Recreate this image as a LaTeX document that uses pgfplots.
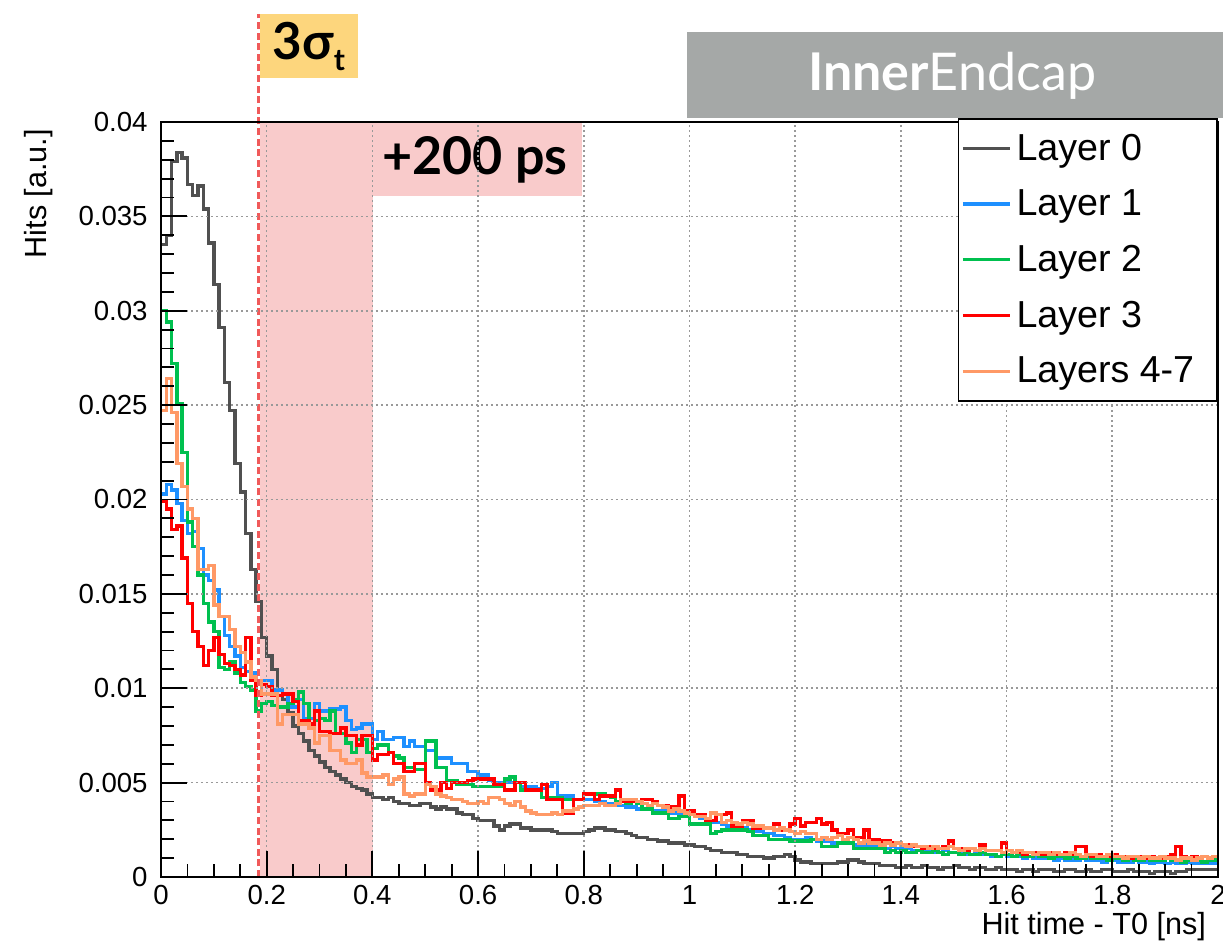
\documentclass[border=0pt]{standalone}
\usepackage{fontspec}
\setmainfont{Liberation Sans}
\newfontfamily\lato{Lato}
\usepackage{pgfplots}
\pgfplotsset{compat=1.18}
\usepackage{pgfplotstable}

\definecolor{lzero}{HTML}{505050}
\definecolor{lone}{HTML}{1E90FF}
\definecolor{ltwo}{HTML}{00C04F}
\definecolor{lthree}{HTML}{FF0000}
\definecolor{lfour}{HTML}{FF9966}
\definecolor{bandred}{HTML}{ED6060}
\definecolor{capgray}{HTML}{A5A8A7}
\definecolor{sigyellow}{HTML}{FDD67D}
\definecolor{cutred}{HTML}{F05A5A}

% Hit-time histograms, 10 ps bins (lower bin edge), normalised hits per layer group
\pgfplotstableread{
x l0 l1 l2 l3 l4
0.00 .0335 .0203 .0300 .0199 .0247
0.01 .0340 .0208 .0294 .0195 .0264
0.02 .0379 .0205 .0272 .0184 .0246
0.03 .0384 .0198 .0251 .0186 .0219
0.04 .0381 .0189 .0225 .0169 .0207
0.05 .0367 .0182 .0188 .0145 .0195
0.06 .0361 .0183 .0175 .0130 .0190
0.07 .0366 .0174 .0160 .0122 .0163
0.08 .0354 .0160 .0145 .0112 .0163
0.09 .0336 .0157 .0135 .0120 .0165
0.10 .0314 .0152 .0130 .0127 .0144
0.11 .0291 .0138 .0111 .0118 .0138
0.12 .0262 .0128 .0110 .0113 .0138
0.13 .0247 .0122 .0114 .0112 .0131
0.14 .0219 .0117 .0108 .0110 .0122
0.15 .0204 .0111 .0103 .0107 .0119
0.16 .0182 .0109 .0101 .0127 .0114
0.17 .0163 .0108 .0099 .0104 .0106
0.18 .0146 .0104 .0088 .0096 .0104
0.19 .0127 .0104 .0092 .0102 .0097
0.20 .0117 .0104 .0093 .0101 .0097
0.21 .0110 .0099 .0091 .0096 .0097
0.22 .0099 .0099 .0090 .0096 .0081
0.23 .0094 .0097 .0090 .0097 .0086
0.24 .0087 .0090 .0092 .0097 .0086
0.25 .0080 .0090 .0094 .0093 .0086
0.26 .0076 .0094 .0098 .0083 .0081
0.27 .0072 .0084 .0092 .0083 .0081
0.28 .0067 .0084 .0080 .0081 .0079
0.29 .0064 .0092 .0083 .0088 .0071
0.30 .0061 .0088 .0084 .0077 .0075
0.31 .0058 .0088 .0083 .0077 .0075
0.32 .0056 .0089 .0088 .0076 .0067
0.33 .0054 .0089 .0076 .0076 .0067
0.34 .0052 .0090 .0076 .0079 .0062
0.35 .0050 .0083 .0071 .0075 .0060
0.36 .0048 .0078 .0066 .0075 .0060
0.37 .0047 .0079 .0073 .0070 .0062
0.38 .0046 .0081 .0073 .0075 .0055
0.39 .0044 .0081 .0066 .0075 .0053
0.40 .0042 .0073 .0068 .0062 .0053
0.41 .0042 .0077 .0070 .0065 .0053
0.42 .0041 .0073 .0070 .0065 .0054
0.43 .0042 .0073 .0066 .0066 .0049
0.44 .0040 .0074 .0064 .0060 .0052
0.45 .0039 .0074 .0063 .0060 .0053
0.46 .0039 .0069 .0058 .0056 .0044
0.47 .0038 .0072 .0058 .0056 .0043
0.48 .0038 .0069 .0057 .0060 .0044
0.49 .0039 .0069 .0057 .0060 .0044
0.50 .0039 .0067 .0072 .0050 .0049
0.51 .0037 .0067 .0072 .0046 .0048
0.52 .0036 .0063 .0058 .0046 .0044
0.53 .0037 .0063 .0058 .0050 .0043
0.54 .0036 .0063 .0051 .0047 .0042
0.55 .0036 .0060 .0051 .0050 .0041
0.56 .0034 .0060 .0049 .0050 .0041
0.57 .0033 .0060 .0049 .0050 .0040
0.58 .0033 .0056 .0049 .0051 .0039
0.59 .0031 .0056 .0048 .0052 .0039
0.60 .0030 .0054 .0048 .0052 .0040
0.61 .0030 .0054 .0048 .0052 .0039
0.62 .0030 .0051 .0048 .0052 .0042
0.63 .0027 .0050 .0048 .0049 .0042
0.64 .0025 .0050 .0048 .0049 .0041
0.65 .0027 .0050 .0052 .0046 .0039
0.66 .0028 .0050 .0053 .0046 .0038
0.67 .0028 .0050 .0050 .0050 .0040
0.68 .0026 .0048 .0046 .0050 .0037
0.69 .0026 .0048 .0046 .0046 .0035
0.70 .0025 .0048 .0046 .0046 .0034
0.71 .0025 .0047 .0046 .0046 .0033
0.72 .0025 .0047 .0042 .0049 .0033
0.73 .0025 .0048 .0042 .0041 .0033
0.74 .0024 .0050 .0042 .0041 .0034
0.75 .0023 .0043 .0042 .0041 .0033
0.76 .0023 .0043 .0041 .0034 .0035
0.77 .0023 .0043 .0041 .0034 .0035
0.78 .0023 .0041 .0041 .0041 .0036
0.79 .0023 .0041 .0041 .0041 .0037
0.80 .0024 .0041 .0044 .0044 .0038
0.81 .0025 .0041 .0044 .0044 .0038
0.82 .0026 .0040 .0044 .0041 .0038
0.83 .0026 .0040 .0044 .0043 .0039
0.84 .0025 .0039 .0043 .0043 .0038
0.85 .0025 .0039 .0042 .0043 .0038
0.86 .0024 .0038 .0040 .0046 .0039
0.87 .0024 .0038 .0040 .0040 .0041
0.88 .0023 .0037 .0039 .0040 .0041
0.89 .0022 .0037 .0040 .0040 .0041
0.90 .0021 .0036 .0039 .0040 .0040
0.91 .0021 .0036 .0036 .0041 .0039
0.92 .0020 .0036 .0036 .0041 .0038
0.93 .0020 .0035 .0034 .0040 .0039
0.94 .0019 .0035 .0034 .0038 .0038
0.95 .0019 .0035 .0034 .0038 .0037
0.96 .0018 .0034 .0031 .0037 .0035
0.97 .0018 .0034 .0031 .0037 .0036
0.98 .0018 .0033 .0032 .0043 .0035
0.99 .0017 .0033 .0032 .0035 .0034
1.00 .0017 .0033 .0028 .0035 .0033
1.01 .0016 .0032 .0028 .0033 .0032
1.02 .0016 .0031 .0028 .0033 .0032
1.03 .0015 .0030 .0028 .0030 .0031
1.04 .0014 .0029 .0023 .0030 .0034
1.05 .0014 .0029 .0024 .0033 .0033
1.06 .0013 .0028 .0025 .0033 .0029
1.07 .0013 .0027 .0025 .0034 .0030
1.08 .0013 .0027 .0025 .0027 .0029
1.09 .0012 .0026 .0025 .0027 .0028
1.10 .0012 .0026 .0025 .0030 .0029
1.11 .0011 .0025 .0024 .0030 .0028
1.12 .0011 .0024 .0022 .0026 .0027
1.13 .0011 .0024 .0022 .0026 .0027
1.14 .0010 .0023 .0022 .0026 .0026
1.15 .0010 .0023 .0020 .0026 .0026
1.16 .0011 .0022 .0020 .0028 .0025
1.17 .0011 .0022 .0020 .0025 .0026
1.18 .0012 .0021 .0020 .0025 .0025
1.19 .0011 .0020 .0019 .0028 .0024
1.20 .0009 .0020 .0019 .0031 .0023
1.21 .0008 .0020 .0019 .0027 .0024
1.22 .0008 .0021 .0019 .0029 .0023
1.23 .0007 .0020 .0020 .0029 .0023
1.24 .0007 .0019 .0020 .0031 .0020
1.25 .0007 .0019 .0016 .0028 .0021
1.26 .0007 .0019 .0016 .0029 .0020
1.27 .0007 .0018 .0016 .0025 .0021
1.28 .0008 .0018 .0018 .0023 .0022
1.29 .0008 .0018 .0018 .0023 .0020
1.30 .0009 .0018 .0018 .0025 .0021
1.31 .0009 .0017 .0015 .0021 .0020
1.32 .0008 .0017 .0015 .0021 .0018
1.33 .0007 .0017 .0015 .0025 .0019
1.34 .0007 .0016 .0015 .0020 .0018
1.35 .0007 .0016 .0015 .0020 .0018
1.36 .0006 .0016 .0015 .0019 .0017
1.37 .0006 .0015 .0013 .0019 .0018
1.38 .0006 .0016 .0014 .0018 .0017
1.39 .0005 .0015 .0013 .0018 .0018
1.40 .0005 .0015 .0014 .0017 .0017
1.41 .0006 .0015 .0013 .0017 .0016
1.42 .0005 .0014 .0013 .0016 .0017
1.43 .0005 .0014 .0014 .0016 .0016
1.44 .0006 .0014 .0013 .0015 .0016
1.45 .0005 .0014 .0013 .0016 .0015
1.46 .0005 .0013 .0014 .0015 .0016
1.47 .0004 .0013 .0013 .0015 .0015
1.48 .0005 .0014 .0012 .0016 .0015
1.49 .0005 .0013 .0013 .0019 .0016
1.50 .0006 .0013 .0013 .0015 .0015
1.51 .0005 .0013 .0012 .0015 .0014
1.52 .0005 .0012 .0013 .0014 .0015
1.53 .0004 .0012 .0012 .0015 .0015
1.54 .0005 .0013 .0012 .0014 .0014
1.55 .0005 .0012 .0013 .0017 .0015
1.56 .0004 .0012 .0012 .0014 .0014
1.57 .0004 .0011 .0012 .0014 .0014
1.58 .0005 .0011 .0011 .0014 .0014
1.59 .0004 .0012 .0012 .0018 .0013
1.60 .0004 .0011 .0012 .0014 .0014
1.61 .0004 .0011 .0011 .0013 .0013
1.62 .0003 .0011 .0012 .0013 .0014
1.63 .0004 .0010 .0011 .0012 .0013
1.64 .0004 .0011 .0011 .0013 .0013
1.65 .0003 .0010 .0012 .0013 .0012
1.66 .0004 .0010 .0011 .0012 .0013
1.67 .0004 .0010 .0011 .0012 .0013
1.68 .0004 .0010 .0010 .0013 .0012
1.69 .0003 .0009 .0011 .0012 .0013
1.70 .0003 .0010 .0011 .0012 .0012
1.71 .0004 .0009 .0010 .0013 .0012
1.72 .0004 .0009 .0011 .0012 .0013
1.73 .0003 .0009 .0010 .0016 .0012
1.74 .0003 .0010 .0010 .0016 .0011
1.75 .0004 .0009 .0011 .0012 .0012
1.76 .0003 .0009 .0010 .0011 .0012
1.77 .0003 .0009 .0010 .0012 .0011
1.78 .0004 .0008 .0010 .0011 .0011
1.79 .0004 .0009 .0009 .0011 .0012
1.80 .0003 .0009 .0010 .0012 .0011
1.81 .0003 .0008 .0010 .0011 .0011
1.82 .0003 .0008 .0009 .0011 .0010
1.83 .0004 .0008 .0010 .0010 .0011
1.84 .0003 .0009 .0009 .0011 .0011
1.85 .0003 .0008 .0009 .0011 .0010
1.86 .0003 .0008 .0010 .0010 .0011
1.87 .0002 .0007 .0009 .0011 .0010
1.88 .0003 .0008 .0009 .0010 .0010
1.89 .0003 .0008 .0009 .0010 .0011
1.90 .0003 .0007 .0010 .0011 .0010
1.91 .0002 .0008 .0009 .0012 .0010
1.92 .0003 .0007 .0009 .0016 .0009
1.93 .0003 .0007 .0008 .0011 .0010
1.94 .0004 .0008 .0009 .0010 .0010
1.95 .0004 .0007 .0009 .0011 .0009
1.96 .0004 .0007 .0009 .0010 .0010
1.97 .0004 .0007 .0008 .0011 .0011
1.98 .0004 .0007 .0009 .0010 .0010
1.99 .0004 .0007 .0009 .0011 .0011
2.00 .0004 .0007 .0009 .0011 .0011
}\hits

\begin{document}
\begin{tikzpicture}
\path[use as bounding box] (-80.5pt,-33.5pt) rectangle (531pt,438.5pt);
\begin{axis}[
  at={(0pt,0pt)}, anchor=south west,
  scale only axis, width=528.5pt, height=377.5pt,
  xmin=0, xmax=2, ymin=0, ymax=0.04,
  clip=false,
  axis on top,
  scaled ticks=false,
  xtick={0,0.2,0.4,0.6,0.8,1,1.2,1.4,1.6,1.8,2},
  xticklabels={0,0.2,0.4,0.6,0.8,1,1.2,1.4,1.6,1.8,2},
  ytick={0,0.005,0.01,0.015,0.02,0.025,0.03,0.035,0.04},
  yticklabels={0,0.005,0.01,0.015,0.02,0.025,0.03,0.035,0.04},
  minor x tick num=3, minor y tick num=4,
  tick align=inside, tick pos=left,
  major tick length=13pt, minor tick length=6.5pt,
  tick style={black, line width=0.9pt},
  axis line style={black, line width=0.9pt},
  grid=major,
  grid style={gray!80, line width=0.8pt, dash pattern=on 0.8pt off 1.7pt},
  ticklabel style={font=\fontsize{13.8}{16}\selectfont},
  xticklabel style={inner sep=0pt, yshift=-4pt},
  yticklabel style={inner sep=0pt, xshift=-6.5pt},
  legend cell align=left,
  legend style={at={(rel axis cs:1,1)}, anchor=north east, yshift=2pt,
    draw=black, line width=0.8pt, fill=white,
    font=\fontsize{18.8}{22}\selectfont,
    inner xsep=1.5pt, inner ysep=5pt, row sep=8.3pt,
    nodes={inner sep=2.5pt}},
  legend image code/.code={\draw[#1, line width=1.6pt] (0pt,0pt) -- (23.5pt,0pt);},
]
% 200 ps window after the 3 sigma_t cut
\fill[bandred, fill opacity=0.33] (axis cs:0.187,0) rectangle (axis cs:0.4005,0.04);
\fill[bandred, fill opacity=0.33] (axis cs:0.4005,0.04) rectangle (axis cs:0.797,0.03608);

\addplot[const plot, color=lzero, line width=1.7pt] table[x=x, y=l0] {\hits};
\addlegendentry{Layer 0}
\addplot[const plot, color=lone, line width=1.7pt] table[x=x, y=l1] {\hits};
\addlegendentry{Layer 1}
\addplot[const plot, color=ltwo, line width=1.7pt] table[x=x, y=l2] {\hits};
\addlegendentry{Layer 2}
\addplot[const plot, color=lthree, line width=1.7pt] table[x=x, y=l3] {\hits};
\addlegendentry{Layer 3}
\addplot[const plot, color=lfour, line width=1.7pt] table[x=x, y=l4] {\hits};
\addlegendentry{Layers 4-7\hspace*{7.5pt}}

% 3 sigma_t timing cut
\draw[cutred, line width=1.3pt, dash pattern=on 3.5pt off 1.8pt]
  (axis cs:0.184,0) -- (axis cs:0.184,0.0457);
\fill[sigyellow] (axis cs:0.187,0.04233) rectangle (axis cs:0.3727,0.04572);
\node[font=\lato\bfseries\fontsize{25.5}{26}\selectfont, anchor=center]
  at (axis cs:0.280,0.04400) {3σ\raisebox{-0.22em}{\fontsize{15}{15}\selectfont t}};
\node[font=\lato\bfseries\fontsize{26}{27}\selectfont, anchor=center]
  at (axis cs:0.594,0.03800) {+200 ps};

% detector region tag
\fill[capgray] (axis cs:0.995,0.04021) rectangle (axis cs:2.0095,0.04477);
\node[font=\lato\fontsize{26}{28}\selectfont, text=white, anchor=center]
  at (axis cs:1.497,0.04245) {{\bfseries Inner}Endcap};
\end{axis}
\node[rotate=90, anchor=base east, font=\fontsize{15.3}{17}\selectfont]
  at (-57pt,377.5pt) {Hits [a.u.]};
\node[anchor=base east, font=\fontsize{15.3}{17}\selectfont]
  at (526pt,-28.5pt) {Hit time - T0 [ns]};
\end{tikzpicture}
\end{document}
